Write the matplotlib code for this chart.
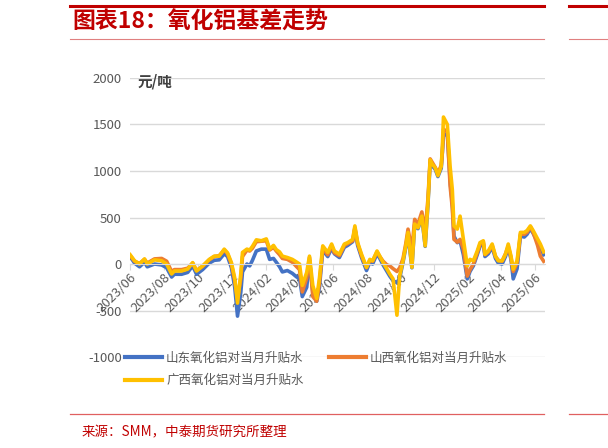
import matplotlib
matplotlib.use("Agg")
import matplotlib.pyplot as plt
import matplotlib.dates as mdates
from matplotlib.lines import Line2D
import pandas as pd

plt.rcParams["font.family"] = ["Noto Sans CJK SC", "DejaVu Sans"]

dates = [
    "2023-06-01", "2023-06-09", "2023-06-18", "2023-06-27", "2023-07-02", "2023-07-15",
    "2023-07-28", "2023-08-06", "2023-08-15", "2023-08-20", "2023-09-02", "2023-09-13",
    "2023-09-22", "2023-09-29", "2023-10-10", "2023-10-22", "2023-10-31", "2023-11-09",
    "2023-11-18", "2023-11-24", "2023-12-01", "2023-12-07", "2023-12-12", "2023-12-18",
    "2023-12-21", "2023-12-29", "2024-01-03", "2024-01-08", "2024-01-15", "2024-01-24",
    "2024-02-02", "2024-02-08", "2024-02-15", "2024-02-20", "2024-02-26", "2024-03-02",
    "2024-03-11", "2024-03-20", "2024-03-28", "2024-04-02", "2024-04-07", "2024-04-15",
    "2024-04-20", "2024-04-26", "2024-05-03", "2024-05-08", "2024-05-14", "2024-05-23",
    "2024-05-30", "2024-06-04", "2024-06-13", "2024-06-22", "2024-06-28", "2024-07-07",
    "2024-07-11", "2024-07-16", "2024-07-23", "2024-08-01", "2024-08-07", "2024-08-12",
    "2024-08-20", "2024-08-25", "2024-08-31", "2024-09-07", "2024-09-12", "2024-09-18",
    "2024-09-25", "2024-09-30", "2024-10-06", "2024-10-11", "2024-10-15", "2024-10-22",
    "2024-10-27", "2024-11-02", "2024-11-09", "2024-11-15", "2024-11-20", "2024-11-24",
    "2024-11-27", "2024-12-03", "2024-12-08", "2024-12-14", "2024-12-16", "2024-12-18",
    "2024-12-25", "2024-12-30", "2025-01-03", "2025-01-06", "2025-01-12", "2025-01-17",
    "2025-01-23", "2025-01-30", "2025-02-04", "2025-02-10", "2025-02-17", "2025-02-22",
    "2025-02-28", "2025-03-03", "2025-03-09", "2025-03-16", "2025-03-22", "2025-03-27",
    "2025-04-03", "2025-04-09", "2025-04-14", "2025-04-19", "2025-04-23", "2025-04-30",
    "2025-05-06", "2025-05-13", "2025-05-18", "2025-05-24", "2025-05-29", "2025-06-06",
    "2025-06-11", "2025-06-17",
]

guangxi = [
    100, 35, 0, 55, 0, 45, 35, 0, -107, -75, -75, -55,
    15, -75, -20, 50, 85, 85, 160, 120, 15, -150, -420, -100,
    125, 160, 150, 190, 260, 250, 270, 160, 200, 155, 130, 85,
    70, 50, 20, 0, -230, -90, 85, -230, -370, -150, 195, 125,
    215, 140, 105, 215, 230, 265, 410, 230, 105, -35, 50, 35,
    140, 85, 15, -55, -107, -160, -550, -125, 35, 195, 340, -35,
    430, 390, 515, 195, 660, 1120, 1080, 1035, 950, 1050, 1260, 1580,
    1500, 1050, 800, 410, 375, 515, 265, -20, 50, 35, 140, 230,
    250, 105, 140, 215, 85, 35, 35, 105, 215, 85, -55, 35,
    340, 340, 360, 410, 360, 270, 215, 130,
]

shanxi = [
    90, 30, 5, 50, 10, 55, 60, 30, -80, -60, -60, -45,
    10, -70, -25, 45, 80, 90, 150, 110, 0, -180, -380, -150,
    80, 150, 140, 170, 240, 245, 250, 150, 180, 140, 100, 60,
    50, 20, -30, -60, -300, -150, 70, -350, -400, -200, 170, 100,
    200, 120, 90, 200, 220, 250, 390, 220, 90, -40, 40, 30,
    130, 80, 30, -10, -20, -50, -80, -40, 60, 220, 375, 150,
    480, 430, 560, 350, 700, 1130, 1100, 1040, 980, 1060, 1200, 1450,
    1420, 840, 600, 265, 235, 265, 160, -130, -60, 0, 120, 210,
    240, 100, 130, 200, 80, 40, 30, 110, 190, 70, -80, 10,
    320, 320, 340, 400, 340, 200, 85, 30,
]

shandong = [
    80, 10, -30, 20, -30, 0, -10, -40, -140, -110, -110, -90,
    -20, -110, -60, 10, 40, 45, 110, 80, -40, -250, -560, -300,
    -85, 0, -20, 40, 140, 160, 160, 50, 60, 20, -30, -85,
    -70, -100, -140, -150, -350, -250, 40, -300, -400, -250, 150, 80,
    170, 110, 70, 180, 200, 240, 380, 200, 70, -70, 20, 0,
    110, 60, -10, -80, -130, -180, -200, -150, 20, 180, 320, -40,
    420, 380, 500, 190, 640, 1100, 1060, 1020, 940, 1030, 1200, 1380,
    1400, 900, 650, 300, 230, 250, 100, -160, -80, -20, 100, 190,
    220, 80, 110, 180, 60, 10, 0, 80, 180, 50, -160, -50,
    300, 290, 320, 380, 330, 240, 180, 100,
]

series_names = ["山东氧化铝对当月升贴水", "山西氧化铝对当月升贴水", "广西氧化铝对当月升贴水"]
series_colors = ["#4472C4", "#ED7D31", "#FFC000"]
y_ticks = [-1000, -500, 0, 500, 1000, 1500, 2000]

df = pd.DataFrame({"date": pd.to_datetime(dates), "sd": shandong, "sx": shanxi, "gx": guangxi})

fig = plt.figure(figsize=(6.08, 4.48), dpi=100)
ax = fig.add_axes([0.214, 0.203, 0.682, 0.623])

grid_c = "#D9D9D9"
text_c = "#595959"
for v in y_ticks:
    ax.axhline(v, color=grid_c, lw=1.0, zorder=0)

for col, name, c in zip(["sd", "sx", "gx"], series_names, series_colors):
    ax.plot(df["date"], df[col], color=c, lw=2.6, label=name, solid_joinstyle="round", zorder=2)

ax.set_ylim(-1000, 2000)
ax.set_xlim(pd.Timestamp("2023-06-01"), pd.Timestamp("2025-06-19"))
ax.set_yticks(y_ticks)
ax.set_yticklabels([str(v) for v in y_ticks], color=text_c, fontsize=9.5)
ax.tick_params(axis="y", length=0, pad=6)

for s in ["top", "right", "left"]:
    ax.spines[s].set_visible(False)
ax.spines["bottom"].set_position(("data", 0))
ax.spines["bottom"].set_color(grid_c)

ax.xaxis.set_major_locator(mdates.MonthLocator(bymonth=[2, 4, 6, 8, 10, 12]))
ax.xaxis.set_major_formatter(mdates.DateFormatter("%Y/%m"))
ax.tick_params(axis="x", direction="out", length=4, color=grid_c, labelcolor=text_c,
               labelsize=9.5, pad=1)
for lbl in ax.get_xticklabels():
    lbl.set_rotation(45)
    lbl.set_ha("right")
    lbl.set_rotation_mode("anchor")

ax.text(0.018, 0.987, "元/吨", transform=ax.transAxes, fontsize=10.5, color="#404040",
        fontweight="bold", va="center", ha="left")

# column-major fill: put Guangxi under Shandong, Shanxi in the second column
order = [0, 2, 1]
handles = [Line2D([0], [0], color=series_colors[i], lw=3) for i in order]
labels = [series_names[i] for i in order]
fig.legend(handles, labels, loc="upper left", bbox_to_anchor=(0.197, 0.226),
           ncol=2, frameon=False, fontsize=9, handlelength=3.0, handletextpad=0.3,
           columnspacing=2.0, labelspacing=0.75, labelcolor=text_c, borderaxespad=0)

red = "#C00000"
fig.add_artist(Line2D([70 / 608, 544 / 608], [1 - 6.5 / 448] * 2, color=red, lw=2.2))
fig.add_artist(Line2D([569 / 608, 1.0], [1 - 6.5 / 448] * 2, color=red, lw=2.2))
fig.add_artist(Line2D([70 / 608, 544 / 608], [1 - 39 / 448] * 2, color="#E08080", lw=0.8))
fig.add_artist(Line2D([569 / 608, 1.0], [1 - 39 / 448] * 2, color="#E08080", lw=0.8))
fig.add_artist(Line2D([70 / 608, 544 / 608], [1 - 414 / 448] * 2, color="#E06060", lw=0.9))
fig.add_artist(Line2D([569 / 608, 1.0], [1 - 414 / 448] * 2, color="#E06060", lw=0.9))

fig.text(72 / 608, 1 - 22 / 448, "图表18：氧化铝基差走势", color=red, fontsize=16.5,
         fontweight="bold", style="italic", va="center", ha="left")
fig.text(82 / 608, 1 - 432 / 448, "来源：SMM，中泰期货研究所整理", color=red, fontsize=9.7,
         va="center", ha="left")

fig.savefig("out.png", dpi=100)
